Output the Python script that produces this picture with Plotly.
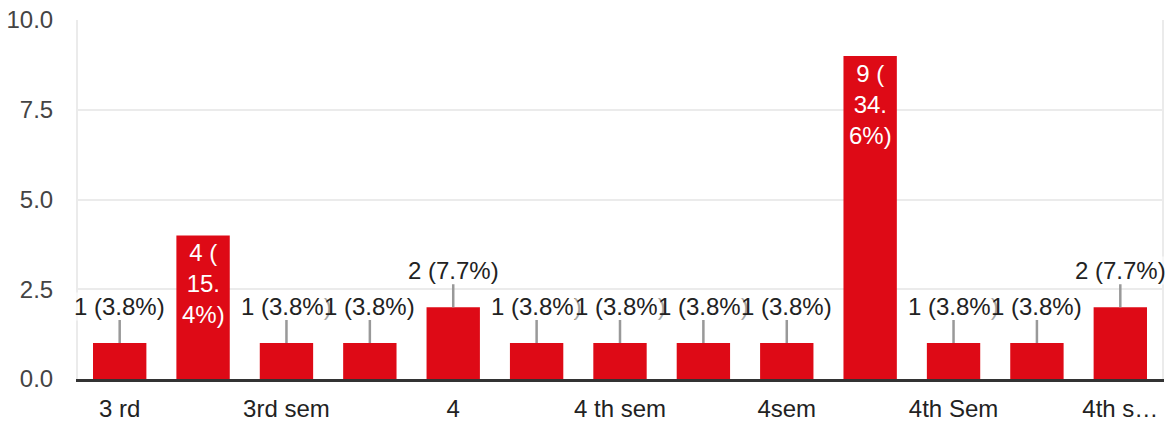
import plotly.graph_objects as go

categories = ["3 rd", "3rd", "3rd sem", "3rd semester", "4", "4 th", "4 th sem",
              "4 th semester", "4sem", "4th", "4th Sem", "4th sem", "4th semester"]
values = [1, 4, 1, 1, 2, 1, 1, 1, 1, 9, 1, 1, 2]
tick_labels = ["3 rd", "", "3rd sem", "", "4", "", "4 th sem", "", "4sem", "", "4th Sem", "", "4th s…"]
y_ticks = [0, 2.5, 5, 7.5, 10]

total = sum(values)
FONT = "Arial, Liberation Sans, Roboto, sans-serif"
FS = 24

fig = go.Figure()
fig.add_trace(go.Bar(
    x=categories, y=values, marker=dict(color="#de0a16", line=dict(width=0)),
    width=0.64, hoverinfo="skip",
))

annotations = []
for c, v in zip(categories, values):
    pct = f"{v / total * 100:.1f}"
    if v >= 3:
        txt = f"{v} (<br>{pct[:-2]}.<br>{pct[-1]}%)"
        annotations.append(dict(x=c, y=v, text=txt, showarrow=False, yanchor="top",
                                yshift=-2, font=dict(color="white", size=FS, family=FONT),
                                align="center"))
    else:
        annotations.append(dict(x=c, y=v, text=f"{v} ({pct}%)", showarrow=True,
                                arrowhead=0, arrowwidth=2.5, arrowcolor="#999999",
                                ax=0, ay=-37, borderpad=0, bgcolor="rgba(255,255,255,0.6)",
                                font=dict(color="#222222", size=FS, family=FONT)))

fig.update_layout(
    width=1171, height=421,
    margin=dict(l=78, r=9, t=20, b=42, autoexpand=False),
    paper_bgcolor="white", plot_bgcolor="white",
    showlegend=False, bargap=0.36,
    annotations=annotations,
    font=dict(family=FONT, size=FS, color="#444444"),
    xaxis=dict(
        tickmode="array", tickvals=categories, ticktext=tick_labels,
        range=[-0.5, len(categories) - 0.5],
        showgrid=False, showline=True, linecolor="#333333", linewidth=3,
        ticks="", ticklabelstandoff=6, automargin=False,
        tickfont=dict(size=FS, color="#222222", family=FONT),
    ),
    yaxis=dict(
        range=[0, 10.001], tickvals=y_ticks, tickformat=".1f",
        showgrid=True, gridcolor="#ebebeb", gridwidth=2,
        zeroline=False, showline=True, linecolor="#ebebeb", linewidth=2, mirror=True,
        ticks="", ticklabelstandoff=18, automargin=False,
        tickfont=dict(size=FS, color="#444444", family=FONT),
    ),
)

fig.write_html("out.html", config={"displayModeBar": False},
               post_script="document.body.style.margin='0';document.body.style.overflow='hidden';")
